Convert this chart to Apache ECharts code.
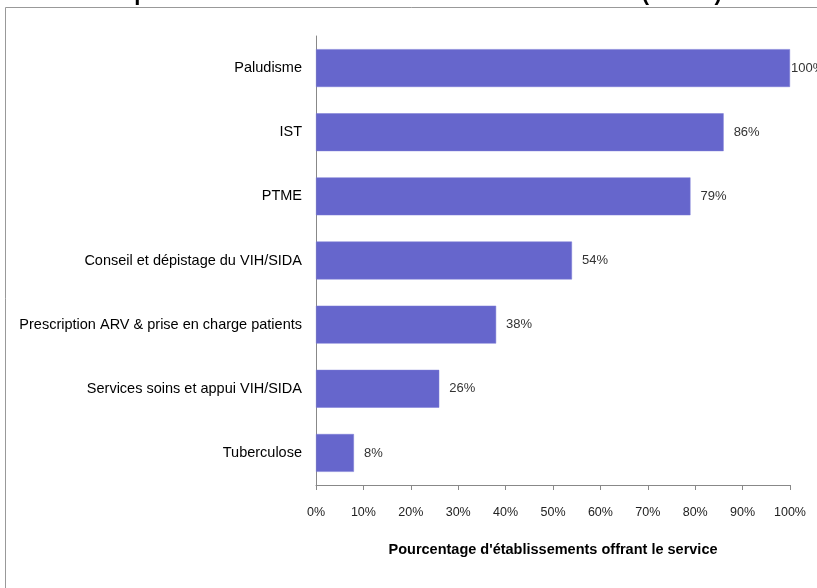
<!DOCTYPE html>
<html>
<head>
<meta charset="utf-8">
<script src="https://cdn.jsdelivr.net/npm/echarts@6/dist/echarts.min.js"></script>
<style>
  html, body { margin: 0; padding: 0; background: #fff; }
  #chart { width: 817px; height: 588px; }
</style>
</head>
<body>
<div id="chart"></div>
<script>
// services offerts, du haut vers le bas
var services = ['Paludisme', 'IST', 'PTME', 'Conseil et dépistage du VIH/SIDA',
    'Prescription ARV & prise en charge patients', 'Services soins et appui VIH/SIDA', 'Tuberculose'];
var pourcentages = [100, 86, 79, 54, 38, 26, 8];
var titre = 'Disponibilité des services de maladies infectieuses (N=150)';
var axeNom = "Pourcentage d'établissements offrant le service";

var narrow = "'Liberation Sans Narrow', 'Arial Narrow', 'Liberation Sans', Arial, sans-serif";

var chart = echarts.init(document.getElementById('chart'));

// le 100% colle au bout de la barre
var barData = [];
for (var i = 0; i < pourcentages.length; i++) {
    var item = {value: pourcentages[i]};
    if (pourcentages[i] === 100) item.label = {distance: 1};
    barData.push(item);
}

var option = {
    backgroundColor: '#fff',
    animation: false,
    title: {
        text: titre,
        left: 406,
        textAlign: 'center',
        top: -22,
        textStyle: {fontFamily: narrow, fontSize: 22, fontWeight: 'bold', color: '#000'}
    },
    graphic: [{
        type: 'rect',
        shape: {x: 5.5, y: 7.5, width: 840, height: 600},
        style: {fill: 'none', stroke: '#999', lineWidth: 1},
        silent: true
    }],
    grid: {left: 316, right: 27, top: 36, bottom: 103, outerBoundsMode: 'none', containLabel: false},
    xAxis: {
        type: 'value',
        min: 0,
        max: 100,
        interval: 10,
        name: axeNom,
        nameLocation: 'middle',
        nameGap: 57,
        nameTextStyle: {fontFamily: narrow, fontSize: 14.5, fontWeight: 'bold', color: '#000'},
        axisLine: {show: true, lineStyle: {color: '#888'}},
        axisTick: {show: true, length: 5, lineStyle: {color: '#888'}},
        axisLabel: {
            fontFamily: narrow, fontSize: 12.5, color: '#222', margin: 21,
            formatter: function (v) { return v + '%'; }
        },
        splitLine: {show: false}
    },
    yAxis: {
        type: 'category',
        inverse: true,
        data: services,
        axisLine: {show: true, lineStyle: {color: '#888'}},
        axisTick: {show: false},
        axisLabel: {fontFamily: narrow, fontSize: 14.5, color: '#000', margin: 14}
    },
    series: [{
        type: 'bar',
        data: barData,
        barWidth: '59%',
        itemStyle: {color: '#6666CC', borderColor: '#7b7bd6', borderWidth: 0.5},
        label: {
            show: true,
            position: 'right',
            distance: 10,
            fontFamily: narrow,
            fontSize: 13,
            color: '#333',
            formatter: '{c}%'
        }
    }]
};

chart.setOption(option);
</script>
</body>
</html>
